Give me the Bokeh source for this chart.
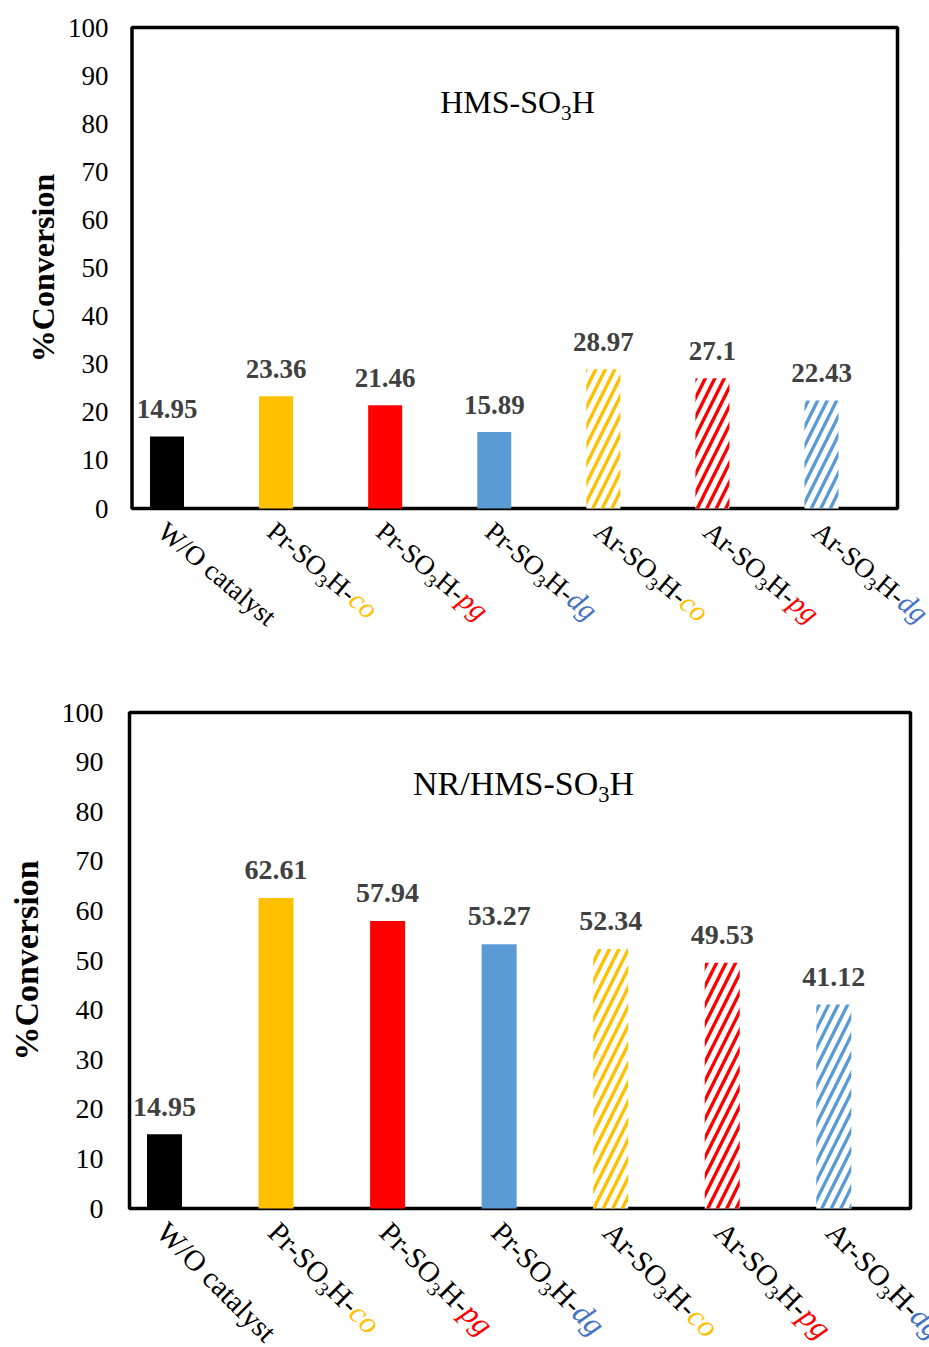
import math
from bokeh.plotting import figure
from bokeh.models import Range1d, Label, FixedTicker, ColumnDataSource
from bokeh.layouts import column, row
from bokeh.embed import file_html
from bokeh.resources import INLINE
from bokeh.core.properties import value

# ---------------- data ----------------
categories = ["W/O catalyst", "Pr-SO3H-co", "Pr-SO3H-pg", "Pr-SO3H-dg",
              "Ar-SO3H-co", "Ar-SO3H-pg", "Ar-SO3H-dg"]
hms_values = [14.95, 23.36, 21.46, 15.89, 28.97, 27.1, 22.43]
nr_hms_values = [14.95, 62.61, 57.94, 53.27, 52.34, 49.53, 41.12]
bar_colors = ["#000000", "#FFC000", "#FF0000", "#5B9BD5", "#FFC000", "#FF0000", "#5B9BD5"]
hatched = [False, False, False, False, True, True, True]
suffix_colors = {"co": "#FFC000", "pg": "#FF0000", "dg": "#4472C4"}
y_ticks = [0, 10, 20, 30, 40, 50, 60, 70, 80, 90, 100]
y_min, y_max = 0, 100
y_title = "%Conversion"
titles = ["HMS-SO3H", "NR/HMS-SO3H"]

FONT = "Liberation Serif"
BASE_FIX = 0.35  # em: renderer puts alphabetic baseline this much lower

# Times-compatible advance widths (per 1000 em)
REG = {'W': 944, '/': 278, 'O': 722, ' ': 250, 'c': 444, 'a': 444, 't': 278, 'l': 278,
       'y': 500, 's': 389, 'P': 556, 'r': 333, '-': 333, 'S': 556, 'H': 722, 'A': 722,
       'M': 889, 'N': 722, 'R': 667, '3': 500}
ITA = {'c': 444, 'o': 500, 'p': 500, 'g': 500, 'd': 500}


def text_width(txt, size, italic=False):
    tab = ITA if italic else REG
    return sum(tab.get(ch, 500) for ch in txt) / 1000.0 * size


def split_parts(name, size):
    """Return list of (text, font_size, down_shift, italic, color)."""
    parts = []
    base = name
    suffix = None
    for suf in suffix_colors:
        if name.endswith("H-" + suf):
            base = name[:-len(suf)]
            suffix = suf
    buf = ""
    for i, ch in enumerate(base):
        if ch.isdigit() and i > 0 and base[i - 1].isalpha():
            if buf:
                parts.append((buf, size, 0.0, False, "#000000"))
                buf = ""
            parts.append((ch, size * 0.66, size * 0.2, False, "#000000"))
        else:
            buf += ch
    if buf:
        parts.append((buf, size, 0.0, False, "#000000"))
    if suffix:
        parts.append((suffix, size * 1.05, 0.0, True, suffix_colors[suffix]))
    return parts


def no_align(fig):
    try:
        fig.frame_align = False
    except Exception:
        pass


def bare(fig):
    no_align(fig)
    fig.grid.visible = False
    fig.outline_line_color = None
    fig.background_fill_color = "white"
    fig.border_fill_color = "white"


def make_chart(values, title, g):
    H = g["height"]
    LW = g["title_strip"]
    k = (g["c_last"] - g["c_first"]) / (len(categories) - 1)      # px per category
    sy = (g["y0_px"] - g["y100_px"]) / (y_max - y_min)              # px per y unit

    def xd(px):
        return 1 + (px - g["c_first"]) / k

    def yd(py):
        return (g["y0_px"] - py) / sy

    fs = g["fonts"]

    # ---------- narrow strip with the y title ----------
    t = figure(width=LW, height=H, output_backend="svg", toolbar_location=None,
               x_range=Range1d(0, LW), y_range=Range1d(yd(H), yd(0)),
               min_border_left=0, min_border_right=0, min_border_top=0, min_border_bottom=0)
    bare(t)
    t.axis.visible = False
    base_x = g["ytitle_cx"] + 0.33 * fs["axis"] - BASE_FIX * fs["axis"]
    t.add_layout(Label(x=base_x, y=(y_min + y_max) / 2, x_units="data", y_units="data",
                       text=y_title, angle=math.pi / 2, text_font=FONT,
                       text_font_style="bold", text_font_size=f"{fs['axis']}px",
                       text_color="black", text_align="center", text_baseline="alphabetic"))

    # ---------- chart: frame covers plot box and category strip ----------
    p = figure(width=929 - LW, height=H, output_backend="svg", toolbar_location=None,
               x_range=Range1d(xd(g["frame_left"]), xd(929)),
               y_range=Range1d(yd(H), yd(0)),
               min_border_left=g["frame_left"] - LW, min_border_right=0,
               min_border_top=0, min_border_bottom=0)
    bare(p)
    p.xaxis.visible = False

    ya = p.yaxis[0]
    ya.ticker = FixedTicker(ticks=y_ticks)
    ya.axis_line_color = None
    ya.major_tick_line_color = None
    ya.minor_tick_line_color = None
    ya.major_tick_out = 0
    ya.major_tick_in = 0
    ya.major_label_standoff = g["frame_left"] - g["tick_right"]
    ya.major_label_text_font = FONT
    ya.major_label_text_font_size = f"{fs['tick']}px"
    ya.major_label_text_color = "black"

    # plot-area box
    p.quad(left=[xd(g["box_left"])], right=[xd(g["box_right"])], bottom=[y_min], top=[y_max],
           fill_color=None, line_color="black", line_width=3.5)

    xs = list(range(1, len(categories) + 1))
    solid = ColumnDataSource(dict(
        x=[x for x, h in zip(xs, hatched) if not h],
        top=[v for v, h in zip(values, hatched) if not h],
        color=[c for c, h in zip(bar_colors, hatched) if not h]))
    hat = ColumnDataSource(dict(
        x=[x for x, h in zip(xs, hatched) if h],
        top=[v for v, h in zip(values, hatched) if h],
        color=[c for c, h in zip(bar_colors, hatched) if h]))
    bw = g["bar_px"] / k
    p.vbar(x="x", top="top", width=bw, source=solid, fill_color="color", line_color=None)
    p.vbar(x="x", top="top", width=bw, source=hat, fill_color="white", line_color=None,
           hatch_pattern="/", hatch_color="color", hatch_weight=3.4, hatch_scale=19)

    lab = ColumnDataSource(dict(x=xs, y=values, t=[str(v) for v in values]))
    p.text(x="x", y="y", text="t", source=lab, text_font=value(FONT),
           text_font_style="bold", text_font_size=f"{fs['value']}px", text_color="#404040",
           text_align="center", text_baseline="alphabetic",
           y_offset=-(18 + BASE_FIX * fs["value"]))

    # title inside plot
    tparts = split_parts(title, fs["title"])
    total = sum(text_width(tt, f) for tt, f, _, _, _ in tparts)
    s = -total / 2
    tx = xd(g["title_cx"])
    for txt, f, shift, ital, col in tparts:
        down = shift - BASE_FIX * f
        p.add_layout(Label(x=tx + s / k, y=yd(g["title_base"] + down),
                           x_units="data", y_units="data", text=txt, text_font=FONT,
                           text_font_size=f"{f:.1f}px", text_color="black",
                           text_align="left", text_baseline="alphabetic"))
        s += text_width(txt, f)

    # rotated category labels
    th = math.radians(g["angle"])
    ux, uy = math.cos(th), math.sin(th)          # along baseline (screen, y down)
    dx, dy = -math.sin(th), math.cos(th)         # text-down (screen, y down)
    sx0, sy0 = g["lab_dx"], g["lab_dy"]
    for x, name in zip(xs, categories):
        s = 0.0
        for txt, f, shift, ital, col in split_parts(name, fs["cat"]):
            down = shift - BASE_FIX * f
            px = sx0 + s * ux + down * dx
            py = sy0 + s * uy + down * dy
            p.add_layout(Label(x=x + px / k, y=y_min - py / sy, x_units="data", y_units="data",
                               text=txt, angle=-th, text_font=FONT,
                               text_font_size=f"{f:.1f}px",
                               text_font_style="italic" if ital else "normal",
                               text_color=col, text_align="left",
                               text_baseline="alphabetic"))
            s += text_width(txt, f, ital)
    return row(t, p, spacing=0)


geom_top = dict(height=650, title_strip=62, frame_left=122, box_left=131.5, box_right=897,
                c_first=166.5, c_last=821, y0_px=508, y100_px=27, bar_px=34,
                tick_right=108, ytitle_cx=43, angle=40, lab_dx=-11, lab_dy=26,
                title_cx=517, title_base=113,
                fonts=dict(tick=27, cat=27.5, value=27, axis=32, title=32))
geom_bot = dict(height=697, title_strip=50, frame_left=122, box_left=129, box_right=910,
                c_first=164, c_last=833.3, y0_px=558, y100_px=62, bar_px=35,
                tick_right=103, ytitle_cx=27, angle=45, lab_dx=-10, lab_dy=26,
                title_cx=523, title_base=145,
                fonts=dict(tick=28, cat=29.5, value=28, axis=34, title=34))

layout = column(make_chart(hms_values, titles[0], geom_top),
                make_chart(nr_hms_values, titles[1], geom_bot), spacing=0)
open("out.html", "w").write(file_html(layout, INLINE))
